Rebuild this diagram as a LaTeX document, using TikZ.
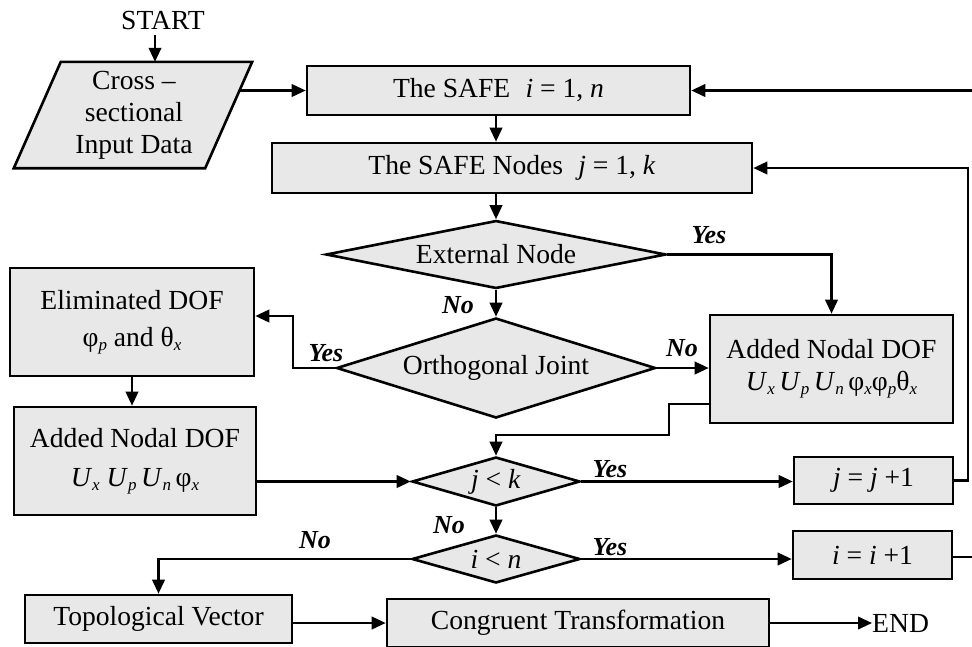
\documentclass[tikz,border=0pt]{standalone}
\usepackage{fontspec}
\setmainfont{Liberation Serif}
\usetikzlibrary{arrows.meta,shapes.geometric,backgrounds}
\definecolor{boxfill}{RGB}{232,232,232}
\newcommand{\sbs}[1]{\raisebox{-0.15em}{\fontsize{17}{17}\selectfont\itshape #1}}
\begin{document}
\begin{tikzpicture}[x=1pt,y=-1pt,
  font=\fontsize{27.6}{32}\selectfont,
  box/.style={draw, line width=2.6pt, fill=boxfill, inner sep=0pt, align=center},
  dia/.style={diamond, draw, line width=2.6pt, fill=boxfill, inner sep=0pt},
  arr/.style={line width=2.3pt, -{Triangle[length=14pt,width=12.5pt]}},
  lbl/.style={font=\fontsize{26}{26}\selectfont\bfseries\itshape, inner sep=0pt},
  plain/.style={inner sep=0pt}]
\useasboundingbox (0,0) rectangle (972,646);
\begin{scope}
\clip (0,0) rectangle (972,646);
% helper coordinates
\coordinate (sx) at (155,0);
\coordinate (sy) at (0,35);
\coordinate (col) at (496,0);
\coordinate (inpR) at (239,90.5);
% nodes
\node[plain] (start) at (163,20) {START};
\node[plain, minimum width=191pt, minimum height=106pt, align=center] (inp) at (134,115) {Cross –\\sectional\\Input Data};
\begin{scope}[on background layer]
\draw[line width=2.6pt, fill=boxfill] ([xshift=22.5pt]inp.north west) -- ([xshift=22.5pt]inp.north east)
  -- ([xshift=-24.5pt]inp.south east) -- ([xshift=-24.5pt]inp.south west) -- cycle;
\end{scope}
\node[box, minimum width=383pt, minimum height=49pt] (safe) at (498.5,90.5) {The SAFE\hspace{0.55em}\textit{i} = 1, \textit{n}};
\node[box, minimum width=480pt, minimum height=50pt] (nodes) at (512,168) {The SAFE Nodes\hspace{0.55em}\textit{j} = 1, \textit{k}};
\node[dia, shape aspect=5, minimum width=340pt, minimum height=68pt] (ext) at (496,254.5) {External Node};
\node[dia, shape aspect=3.2, minimum width=319pt, minimum height=100pt] (orth) at (496,368) {Orthogonal Joint};
\node[box, minimum width=244pt, minimum height=108pt, font=\fontsize{27.6}{37}\selectfont] (elim) at (132,322) {Eliminated DOF\\φ\sbs{p} and θ\sbs{x}};
\node[box, minimum width=242pt, minimum height=108pt, font=\fontsize{27.6}{39}\selectfont] (ladd) at (135,461) {Added Nodal DOF\\\textit{U}\sbs{x} \textit{U}\sbs{p}\,\textit{U}\sbs{n}\,φ\sbs{x}};
\node[box, minimum width=243pt, minimum height=108pt, font=\fontsize{27.6}{32}\selectfont] (radd) at (831.5,369) {Added Nodal DOF\\\textit{U}\sbs{x}\,\textit{U}\sbs{p}\,\textit{U}\sbs{n}\,φ\sbs{x}φ\sbs{p}θ\sbs{x}};
\node[dia, shape aspect=3.4, minimum width=168pt, minimum height=49pt] (jlt) at (496,481.5) {\textit{j} < \textit{k}};
\node[dia, shape aspect=3.4, minimum width=168pt, minimum height=48pt] (ilt) at (496,559) {\textit{i} < \textit{n}};
\node[box, minimum width=159pt, minimum height=47pt] (jinc) at (873.5,480.5) {\textit{j} = \textit{j} +1};
\node[box, minimum width=159pt, minimum height=48pt] (iinc) at (872.5,555) {\textit{i} = \textit{i} +1};
\node[box, minimum width=267pt, minimum height=48pt] (topo) at (158.5,619) {Topological Vector};
\node[box, minimum width=382pt, minimum height=48pt] (cong) at (578,623) {Congruent Transformation};
\node[plain, anchor=west] (end) at (872,623) {END};
% labels
\node[lbl] (yes1) at (709,235) {Yes};
\node[lbl] (no1) at (458,305) {No};
\node[lbl] (yes2) at (326,353) {Yes};
\node[lbl] (no2) at (682,348) {No};
\node[lbl] (yes3) at (610,469) {Yes};
\node[lbl] (no3) at (449,525) {No};
\node[lbl] (yes4) at (610,547) {Yes};
\node[lbl] (no4) at (315,540) {No};
% connectors
\draw[arr] (sx |- sy) -- (inp.north -| sx);
\draw[arr] (inpR) -- (safe.west);
\draw[arr] (safe.south -| col) -- (nodes.north -| col);
\draw[arr] (nodes.south -| col) -- (ext.north);
\draw[arr] (ext.east) -| (radd.north);
\draw[arr] (ext.south) -- (orth.north);
\draw[arr] (orth.east) -- (radd.west |- orth.east);
\draw[arr] (orth.west) -- ++(-42,0) |- ([yshift=6pt]elim.east);
\draw[arr] (elim.south) -- (elim.south |- ladd.north);
\draw[arr] (ladd.east |- jlt.west) -- (jlt.west);
\draw[arr] ([yshift=-35pt]radd.west) -| (669,435) -| (jlt.north);
\draw[arr] (jlt.east) -- (jinc.west |- jlt.east);
\draw[arr] (jlt.south) -- (ilt.north);
\draw[arr] (ilt.east) -- (iinc.west |- ilt.east);
\draw[arr] (ilt.west) -| (topo.north);
\draw[arr] (topo.east |- cong.west) -- (cong.west);
\draw[arr] (cong.east) -- (end.west);
\draw[arr] (jinc.east) -- ++(14,0) |- (nodes.east);
\draw[arr] ([yshift=-2pt]iinc.east) -- ++(25,0) |- (safe.east);
\end{scope}
\end{tikzpicture}
\end{document}
